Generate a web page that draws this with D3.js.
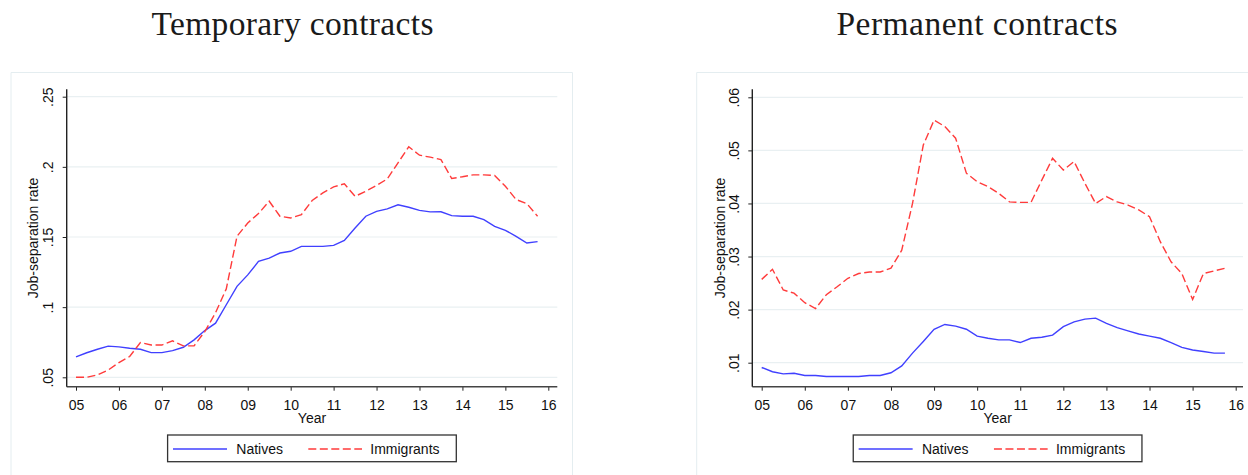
<!DOCTYPE html>
<html>
<head>
<meta charset="utf-8">
<script src="https://cdn.jsdelivr.net/npm/d3@7"></script>
<style>
  body { margin: 0; background: #fff; }
  svg { display: block; }
  text { font-family: "Liberation Sans", Arial, sans-serif; fill: #111; }
  .title { font-family: "Liberation Serif", "Times New Roman", serif; font-size: 33.5px; fill: #1a1a1a; }
</style>
</head>
<body>
<svg width="1248" height="475"></svg>
<script>
// quarterly observations, 2005q1 .. 2015q4
var quarters = d3.range(44).map(function(i) { return 2005 + i / 4; });

var tempNatives = [
  .0645, .0675, .0700, .0722,
  .0717, .0707, .0700, .0676,
  .0676, .0690, .0714, .0767,
  .0833, .0886, .1017, .1148,
  .1230, .1326, .1350, .1386,
  .1398, .1433, .1433, .1433,
  .1440, .1476, .1564, .1648,
  .1683, .1700, .1730, .1712,
  .1690, .1679, .1680, .1652,
  .1648, .1648, .1624, .1576,
  .1548, .1505, .1457, .1467
];

var tempImmigrants = [
  .0500, .0500, .0517, .0552,
  .0605, .0648, .0748, .0730,
  .0730, .0760, .0724, .0724,
  .0826, .0960, .1130, .1505,
  .1600, .1667, .1755, .1648,
  .1636, .1660, .1760, .1814,
  .1857, .1879, .1790, .1826,
  .1867, .1914, .2029, .2143,
  .2083, .2069, .2052, .1917,
  .1929, .1943, .1943, .1938,
  .1862, .1767, .1738, .1648
];

var permNatives = [
  .0091, .0083, .0079, .0080,
  .0076, .0076, .0074, .0074,
  .0074, .0074, .0076, .0076,
  .0081, .0094, .0118, .0140,
  .0163, .0172, .0169, .0163,
  .0150, .0146, .0143, .0143,
  .0138, .0146, .0148, .0152,
  .0168, .0177, .0182, .0184,
  .0174, .0166, .0160, .0154,
  .0150, .0146, .0138, .0129,
  .0124, .0121, .0118, .0118
];

var permImmigrants = [
  .0257, .0276, .0237, .0231,
  .0213, .0202, .0228, .0243,
  .0259, .0268, .0271, .0271,
  .0278, .0312, .0400, .0510,
  .0557, .0545, .0523, .0457,
  .0441, .0432, .0419, .0403,
  .0402, .0402, .0444, .0485,
  .0463, .0479, .0438, .0400,
  .0413, .0403, .0397, .0388,
  .0375, .0328, .0290, .0268,
  .0219, .0268, .0273, .0278
];

var yearTicks = d3.range(2005, 2017);
var tempTicks = [.05, .1, .15, .2, .25];
var permTicks = [.01, .02, .03, .04, .05, .06];
var seriesNames = ["Natives", "Immigrants"];

var svg = d3.select("svg");

var blue = "#4040ff";
var red = "#ff3b3b";
var gridColor = "#e9f0f2";

function drawPanel(p) {
  var g = svg.append("g");

  // light outer frame of the graph region
  g.append("path")
    .attr("d", "M" + p.frameLeft + ",475V" + p.frameTop + "H" + p.frameRight + "V475")
    .attr("fill", "none")
    .attr("stroke", "#e4edf0")
    .attr("stroke-width", 1);

  g.append("text")
    .attr("class", "title")
    .attr("x", p.titleX)
    .attr("y", 35)
    .attr("text-anchor", "middle")
    .attr("textLength", p.titleWidth)
    .attr("lengthAdjust", "spacing")
    .text(p.title);

  var x = d3.scaleLinear().domain([2005, 2016]).range(p.xRange);
  var y = d3.scaleLinear().domain(p.yDomain).range(p.yRange);

  // gridlines
  g.append("g")
    .selectAll("line")
    .data(p.yTicks)
    .enter().append("line")
      .attr("x1", p.axisLeft)
      .attr("x2", p.axisRight)
      .attr("y1", function(d) { return y(d); })
      .attr("y2", function(d) { return y(d); })
      .attr("stroke", gridColor)
      .attr("stroke-width", 1.2);

  var line = d3.line()
    .x(function(d) { return x(d.t); })
    .y(function(d) { return y(d.v); });

  var nat = quarters.map(function(t, i) { return {t: t, v: p.natives[i]}; });
  var imm = quarters.map(function(t, i) { return {t: t, v: p.immigrants[i]}; });

  g.append("path")
    .datum(nat)
    .attr("d", line)
    .attr("fill", "none")
    .attr("stroke", blue)
    .attr("stroke-width", 1.4);

  g.append("path")
    .datum(imm)
    .attr("d", line)
    .attr("fill", "none")
    .attr("stroke", red)
    .attr("stroke-width", 1.4)
    .attr("stroke-dasharray", "8,3.5");

  // axes
  var xAxis = g.append("g")
    .attr("transform", "translate(0," + p.axisBottom + ")")
    .call(d3.axisBottom(x)
      .tickValues(yearTicks)
      .tickSize(4)
      .tickPadding(9)
      .tickFormat(function(d) { return String(d).slice(2); }));
  xAxis.select(".domain").remove();
  xAxis.selectAll("text").attr("font-size", 14).attr("font-family", null).attr("fill", "#111");
  xAxis.selectAll("line").attr("stroke", "#222");

  var yAxis = g.append("g")
    .attr("transform", "translate(" + p.axisLeft + ",0)")
    .call(d3.axisLeft(y)
      .tickValues(p.yTicks)
      .tickSize(4)
      .tickFormat(function(d) { return d3.format(".2f")(d).replace(/^0/, "").replace(/0$/, ""); }));
  yAxis.select(".domain").remove();
  yAxis.selectAll("line").attr("stroke", "#222");
  yAxis.selectAll("text")
    .attr("font-size", 14)
    .attr("font-family", null)
    .attr("fill", "#111")
    .attr("x", 0)
    .attr("dy", "0.35em")
    .attr("text-anchor", "middle")
    .attr("transform", "translate(-18.5,0) rotate(-90)");

  g.append("line")
    .attr("x1", p.axisLeft).attr("x2", p.axisRight)
    .attr("y1", p.axisBottom).attr("y2", p.axisBottom)
    .attr("stroke", "#444")
    .attr("stroke-width", 1.6);

  g.append("line")
    .attr("x1", p.axisLeft).attr("x2", p.axisLeft)
    .attr("y1", p.axisTop).attr("y2", p.axisBottom)
    .attr("stroke", "#222")
    .attr("stroke-width", 1.4);

  var mid = (p.axisLeft + p.axisRight) / 2;

  g.append("text")
    .attr("x", mid)
    .attr("y", 422.5)
    .attr("text-anchor", "middle")
    .attr("font-size", 14)
    .text("Year");

  g.append("text")
    .attr("transform", "translate(" + p.yLabelX + "," + ((p.axisTop + p.axisBottom) / 2) + ") rotate(-90)")
    .attr("dy", "0.35em")
    .attr("text-anchor", "middle")
    .attr("font-size", 14)
    .text("Job-separation rate");

  // legend
  var lx = mid - 144.4;
  var legend = g.append("g")
    .attr("transform", "translate(" + lx + ",435)");

  legend.append("rect")
    .attr("width", 288.7)
    .attr("height", 26.7)
    .attr("fill", "#fff")
    .attr("stroke", "#333")
    .attr("stroke-width", 1.3);

  legend.append("line")
    .attr("x1", 5.4).attr("x2", 59.4)
    .attr("y1", 14).attr("y2", 14)
    .attr("stroke", blue)
    .attr("stroke-width", 1.4);

  legend.append("text")
    .attr("x", 68.7)
    .attr("y", 19)
    .attr("font-size", 14)
    .text(seriesNames[0]);

  legend.append("line")
    .attr("x1", 140.7).attr("x2", 194.4)
    .attr("y1", 14).attr("y2", 14)
    .attr("stroke", red)
    .attr("stroke-width", 1.4)
    .attr("stroke-dasharray", "8,3.5");

  legend.append("text")
    .attr("x", 202.7)
    .attr("y", 19)
    .attr("font-size", 14)
    .text(seriesNames[1]);
}

drawPanel({
  title: "Temporary contracts",
  titleX: 292.5,
  titleWidth: 282,
  frameLeft: 11, frameTop: 72.5, frameRight: 572.5,
  xRange: [76, 548.3],
  yDomain: [.05, .25],
  yRange: [377.3, 96.7],
  yTicks: tempTicks,
  axisLeft: 66.7, axisRight: 557.3, axisTop: 89.3, axisBottom: 386.7,
  yLabelX: 33,
  natives: tempNatives,
  immigrants: tempImmigrants
});

drawPanel({
  title: "Permanent contracts",
  titleX: 977,
  titleWidth: 281,
  frameLeft: 696.7, frameTop: 72.5, frameRight: 1260,
  xRange: [761.7, 1235.7],
  yDomain: [.01, .06],
  yRange: [362.7, 97.3],
  yTicks: permTicks,
  axisLeft: 752.3, axisRight: 1243, axisTop: 89.3, axisBottom: 386.7,
  yLabelX: 720,
  natives: permNatives,
  immigrants: permImmigrants
});
</script>
</body>
</html>
